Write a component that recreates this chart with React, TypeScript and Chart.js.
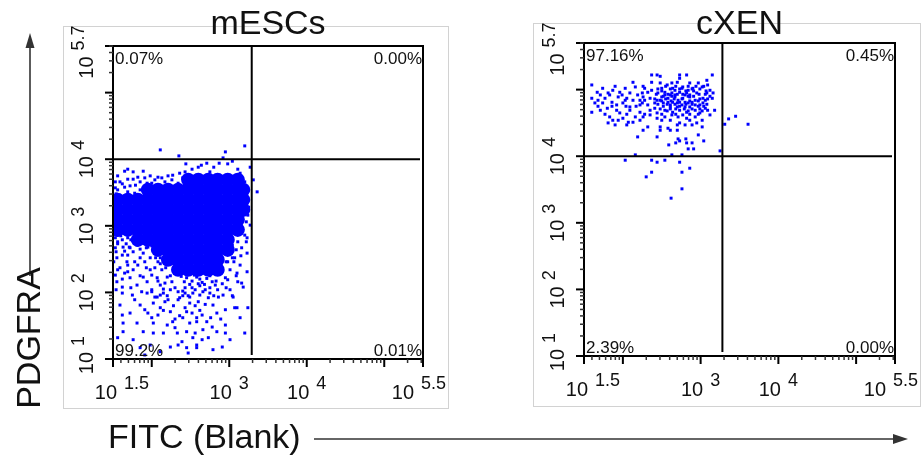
import React, { useEffect, useRef } from 'react';
import { Chart, registerables } from 'chart.js';

Chart.register(...registerables);

const FONT = "'Liberation Sans', Arial, Helvetica, sans-serif";

// ---- axes (values are log10 exponents) ----
const xExpRange: [number, number] = [1.5, 5.5];
const yExpRange: [number, number] = [1, 5.7];
const xLabelExps = [1.5, 3, 4, 5.5];
const xLabelTexts = ['1.5', '3', '4', '5.5'];
const yLabelExps = [1, 2, 3, 4, 5.7];
const yLabelTexts = ['1', '2', '3', '4', '5.7'];

// ---- panel texts / gates ----
const mescTitle = 'mESCs';
const cxenTitle = 'cXEN';
const mescPercents = ['0.07%', '0.00%', '99.2%', '0.01%'];
const cxenPercents = ['97.16%', '0.45%', '2.39%', '0.00%'];
const mescGate = [3.29, 4.0];
const cxenGate = [3.28, 4.0];

// ---- mESCs: dense core (rows of log y, with log x of each saturated cell) ----
const mescCoreRows: [number, number[]][] = [
  [3.69, [2.47, 2.6, 2.73, 2.85, 2.98, 3.11]],
  [3.54, [1.95, 2.08, 2.21, 2.34, 2.47, 2.6, 2.73, 2.85, 2.98, 3.11, 3.18]],
  [3.39, [1.56, 1.69, 1.82, 1.95, 2.08, 2.21, 2.34, 2.47, 2.6, 2.73, 2.85, 2.98, 3.11, 3.18]],
  [3.24, [1.56, 1.69, 1.82, 1.95, 2.08, 2.21, 2.34, 2.47, 2.6, 2.73, 2.85, 2.98, 3.11, 3.18]],
  [3.09, [1.56, 1.69, 1.82, 1.95, 2.08, 2.21, 2.34, 2.47, 2.6, 2.73, 2.85, 2.98, 3.11]],
  [2.94, [1.56, 1.69, 1.82, 1.95, 2.08, 2.21, 2.34, 2.47, 2.6, 2.73, 2.85, 2.98, 3.11]],
  [2.79, [1.82, 1.95, 2.08, 2.21, 2.34, 2.47, 2.6, 2.73, 2.85, 2.98]],
  [2.64, [2.08, 2.21, 2.34, 2.47, 2.6, 2.73, 2.85, 2.98]],
  [2.49, [2.21, 2.34, 2.47, 2.6, 2.73, 2.85]],
  [2.34, [2.34, 2.47, 2.6, 2.73, 2.85]],
];

// ---- mESCs: individual events [log x, log y] ----
const mescDots: [number, number][] = [
  [2.11, 4.14], [2.35, 4.05], [2.95, 4.11], [3.2, 4.2], [2.92, 4.02],
  [2.44, 3.93], [2.64, 3.91], [2.71, 3.94], [2.87, 3.94], [2.98, 3.93], [3.04, 3.97], [3.11, 3.85], [3.27, 3.88],
  [1.65, 3.82], [1.69, 3.85], [1.76, 3.81], [1.82, 3.73], [1.76, 3.7], [1.53, 3.66], [1.59, 3.66], [1.94, 3.64],
  [2.13, 3.72], [2.21, 3.75], [2.27, 3.76], [2.36, 3.79], [2.43, 3.81], [2.52, 3.85], [2.6, 3.88], [2.75, 3.81], [2.8, 3.88],
  [3.14, 3.79], [3.2, 3.66], [3.31, 3.69], [3.36, 3.51], [3.23, 3.54],
  [1.65, 3.58], [1.79, 3.61], [1.56, 3.54], [1.69, 3.51], [1.85, 3.54], [2.04, 3.69], [1.98, 3.75],
  [1.53, 3.57], [1.62, 3.63], [1.72, 3.6], [1.85, 3.66], [1.91, 3.72], [2.0, 3.64], [2.08, 3.73], [2.17, 3.66],
  [2.26, 3.69], [2.34, 3.64], [2.4, 3.72], [1.89, 3.82], [1.56, 3.75], [1.69, 3.7], [1.78, 3.49], [1.65, 3.45],
  [1.54, 3.48], [1.84, 3.45],
  [3.2, 2.86], [3.16, 2.67], [3.23, 2.59], [3.14, 2.41], [3.01, 2.34], [3.1, 2.29], [2.98, 2.19], [3.11, 2.16],
  [3.18, 2.08], [3.01, 2.04], [3.23, 2.31], [3.16, 2.14], [3.24, 1.77], [3.2, 1.39], [3.14, 1.62], [3.1, 1.77],
  [3.05, 1.93], [3.24, 3.16], [3.27, 3.01], [3.22, 2.76], [3.07, 2.52], [3.04, 2.71], [3.09, 2.64],
  [3.22, 3.42], [3.25, 3.28], [3.22, 3.06], [3.23, 2.82], [3.11, 2.76], [3.15, 2.55], [3.06, 2.46], [3.09, 2.25], [2.96, 2.46],
  [1.55, 2.52], [1.62, 2.56], [1.68, 2.46], [1.59, 2.37], [1.65, 2.29], [1.76, 2.34], [1.82, 2.41], [1.72, 2.22],
  [1.55, 2.16], [1.62, 2.08], [1.81, 2.11], [1.89, 2.23], [1.94, 2.16], [1.87, 2.01], [2.0, 2.04], [2.07, 2.22], [2.11, 2.11],
  [1.72, 2.67], [1.81, 2.71], [1.63, 2.68], [1.89, 2.59], [1.98, 2.52], [1.95, 2.68], [1.56, 2.76], [1.53, 2.67],
  [2.04, 2.37], [1.69, 2.82], [1.56, 2.86], [1.62, 2.79], [1.91, 2.46], [2.08, 2.46], [2.13, 2.34], [1.98, 2.34],
  [1.85, 2.52], [1.69, 2.56], [1.51, 2.46], [1.53, 2.26], [1.69, 2.41],
  [1.53, 2.82], [1.6, 2.85], [1.67, 2.73], [1.73, 2.79], [1.56, 2.73], [1.71, 2.68], [1.54, 2.61], [1.65, 2.62],
  [1.76, 2.61], [1.85, 2.65], [1.93, 2.67], [2.0, 2.7], [2.05, 2.52], [2.11, 2.43], [2.18, 2.37], [2.24, 2.25],
  [2.26, 2.16], [2.15, 2.05], [2.08, 2.17], [2.0, 2.26], [1.93, 2.37], [1.85, 2.25], [1.78, 2.46], [1.69, 2.31],
  [1.56, 2.34], [1.62, 2.2], [1.54, 2.04], [1.73, 2.07], [1.94, 1.99], [2.04, 1.93],
  [2.11, 2.52], [2.98, 2.46], [3.04, 2.52], [2.95, 2.22], [2.17, 2.14], [2.24, 2.04], [2.85, 2.04], [2.69, 2.04],
  [2.43, 2.07], [2.56, 2.04], [2.34, 2.01], [2.2, 2.23], [2.82, 2.11], [2.91, 2.31], [2.3, 2.07], [2.62, 1.96],
  [2.49, 1.93], [2.11, 1.96], [2.73, 1.92],
  [2.45, 2.22], [2.52, 2.17], [2.58, 2.23], [2.65, 2.15], [2.71, 2.21], [2.78, 2.16], [2.49, 2.12], [2.62, 2.2],
  [2.68, 2.12], [2.42, 2.16], [2.75, 2.25], [2.55, 2.26], [2.38, 2.24], [2.6, 2.13],
  [2.4, 2.02], [2.52, 2.07], [2.62, 2.1], [2.75, 2.07], [2.83, 2.17], [2.91, 2.13], [2.96, 2.07], [2.47, 1.95],
  [2.66, 2.01], [2.8, 1.95], [2.36, 1.92], [2.21, 1.89],
  [1.62, 1.99], [1.75, 1.96], [2.0, 2.01], [2.15, 1.99], [2.43, 1.99], [2.75, 1.99], [2.92, 1.96], [3.04, 1.95],
  [1.59, 1.81], [1.85, 1.81], [2.02, 1.84], [2.17, 1.86], [2.34, 1.89], [2.49, 1.84], [2.6, 1.86], [2.79, 1.81], [3.07, 1.77],
  [1.62, 1.66], [1.72, 1.69], [1.95, 1.69], [2.08, 1.66], [2.24, 1.71], [2.36, 1.65], [2.52, 1.69], [2.65, 1.66], [2.84, 1.69],
  [1.63, 1.54], [1.81, 1.54], [2.02, 1.54], [2.2, 1.51], [2.27, 1.56], [2.4, 1.62], [2.49, 1.54], [2.58, 1.56],
  [2.71, 1.56], [2.78, 1.48], [2.95, 1.51],
  [1.63, 1.41], [1.89, 1.41], [2.02, 1.39], [2.15, 1.39], [2.33, 1.39], [2.45, 1.41], [2.56, 1.39], [2.66, 1.44],
  [2.84, 1.41], [2.95, 1.39],
  [2.39, 1.26], [2.53, 1.32], [2.65, 1.29], [2.73, 1.32], [2.24, 1.18], [2.34, 1.21], [2.45, 1.17], [2.58, 1.17],
  [2.79, 1.14], [2.47, 1.09], [1.91, 1.06], [2.91, 1.18], [2.58, 1.21],
  [1.56, 1.32], [1.76, 1.29], [1.98, 1.21], [2.11, 1.11], [1.85, 1.17], [1.78, 1.89], [1.91, 1.74], [2.11, 1.77],
  [2.43, 1.77], [2.95, 1.74], [2.3, 1.47], [3.01, 1.29],
  [2.07, 1.93], [2.2, 1.95], [2.4, 1.95], [2.53, 1.99], [2.86, 1.93], [2.28, 1.8], [2.56, 1.8],
  [2.69, 1.82], [2.15, 1.73], [2.45, 1.71], [2.62, 1.73], [2.0, 1.62], [2.3, 1.6], [2.58, 1.62], [2.76, 1.62], [2.89, 1.6],
];

// ---- cXEN: individual events [log x, log y] ----
const cxenCoreRows: [number, number[]][] = [];
const cxenDots: [number, number][] = [
  [2.37, 5.22], [2.44, 5.22], [2.48, 5.2], [2.73, 5.22], [2.73, 5.17], [2.82, 5.22], [3.15, 5.22], [3.08, 5.14],
  [2.13, 5.11], [2.37, 5.11], [2.48, 5.1], [2.57, 5.07], [2.63, 5.1], [2.7, 5.11], [2.86, 5.1], [2.97, 5.1], [3.09, 5.07],
  [1.6, 5.07], [1.74, 5.02], [1.87, 4.99], [2.03, 5.02], [2.16, 5.04], [2.28, 5.02], [2.37, 4.99], [2.5, 5.02],
  [2.64, 5.02], [2.77, 5.04], [2.9, 5.02], [3.02, 5.04], [3.12, 4.99],
  [1.67, 4.96], [1.81, 4.95], [1.96, 4.96], [2.09, 4.95], [2.25, 4.95], [2.32, 4.96], [2.45, 4.95], [2.54, 4.96],
  [2.63, 4.95], [2.73, 4.96], [2.82, 4.95], [2.95, 4.95], [3.08, 4.95], [3.16, 4.95],
  [1.6, 4.87], [1.68, 4.84], [1.77, 4.87], [1.86, 4.81], [1.94, 4.89], [2.05, 4.87], [2.13, 4.84], [2.26, 4.89],
  [2.35, 4.87], [2.44, 4.84], [2.5, 4.89], [2.58, 4.87], [2.67, 4.89], [2.71, 4.84], [2.77, 4.87], [2.86, 4.89],
  [2.93, 4.84], [3.03, 4.87], [3.15, 4.87],
  [1.64, 4.8], [1.74, 4.8], [1.92, 4.77], [2.0, 4.8], [2.09, 4.74], [2.25, 4.8], [2.32, 4.77], [2.41, 4.8],
  [2.52, 4.8], [2.61, 4.77], [2.7, 4.8], [2.76, 4.77], [2.84, 4.8], [2.93, 4.77], [3.03, 4.8], [3.18, 4.69],
  [1.6, 4.66], [1.71, 4.69], [1.8, 4.72], [1.92, 4.69], [1.96, 4.65], [2.09, 4.69], [2.22, 4.66], [2.35, 4.69],
  [2.44, 4.65], [2.54, 4.69], [2.64, 4.66], [2.73, 4.69], [2.82, 4.66], [2.93, 4.69], [3.06, 4.72], [3.09, 4.69],
  [1.83, 4.59], [1.87, 4.54], [2.0, 4.57], [2.07, 4.51], [2.16, 4.59], [2.26, 4.59], [2.35, 4.62], [2.44, 4.57],
  [2.54, 4.59], [2.61, 4.54], [2.71, 4.59], [2.82, 4.57], [2.93, 4.59], [3.02, 4.54], [3.12, 4.62],
  [1.81, 4.5], [1.9, 4.47], [2.05, 4.47], [2.13, 4.51], [2.32, 4.44], [2.48, 4.44], [2.58, 4.42], [2.7, 4.47],
  [2.73, 4.5], [2.95, 4.5], [2.89, 4.47], [3.02, 4.44],
  [2.26, 4.39], [2.48, 4.39], [2.61, 4.39], [2.7, 4.39],
  [3.31, 4.48], [3.36, 4.56], [3.45, 4.6], [3.61, 4.48],
  [2.19, 4.29], [2.44, 4.29], [2.71, 4.26], [2.73, 4.23], [2.81, 4.26], [2.82, 4.2], [2.89, 4.2], [3.04, 4.23],
  [2.59, 4.17], [2.68, 4.2], [2.84, 4.11], [2.91, 4.11], [3.25, 4.08], [2.97, 4.32],
  [2.16, 4.02], [2.76, 4.02], [2.63, 4.02], [2.03, 3.94], [2.37, 3.94], [2.44, 3.91], [2.54, 3.94], [2.73, 3.91],
  [2.86, 3.82], [2.37, 3.76], [2.76, 3.76], [2.3, 3.69], [2.76, 3.51], [2.62, 3.37],
  [2.54, 4.92], [2.61, 4.92], [2.67, 4.92], [2.8, 4.92], [2.86, 4.92], [2.58, 4.81], [2.64, 4.81], [2.73, 4.81],
  [2.8, 4.81], [2.89, 4.81], [2.61, 4.74], [2.7, 4.74], [2.8, 4.74], [2.86, 4.74], [2.67, 4.99], [2.84, 4.99],
  [2.76, 5.02], [2.48, 4.84], [2.41, 4.72], [2.28, 4.84], [2.22, 4.77], [2.99, 4.77], [3.06, 4.84], [2.63, 4.62],
  [2.77, 4.62], [2.5, 4.54], [2.86, 4.54], [2.8, 4.47], [2.99, 4.65],
  [2.55, 5.05], [2.68, 5.05], [2.84, 5.05], [2.94, 5.05], [3.04, 5.05],
  [2.45, 5.01], [2.61, 5.01], [2.73, 5.01], [2.89, 5.01], [2.99, 5.01],
  [2.5, 4.98], [2.81, 4.98], [2.91, 4.98], [3.07, 4.98],
  [2.43, 4.93], [2.58, 4.93], [2.7, 4.93], [2.77, 4.93], [2.98, 4.93], [3.06, 4.93],
  [2.52, 4.9], [2.63, 4.9], [2.84, 4.9], [2.91, 4.9], [3.12, 4.9],
  [2.41, 4.86], [2.55, 4.86], [2.66, 4.86], [2.76, 4.86], [2.99, 4.86], [3.09, 4.86],
  [2.5, 4.83], [2.62, 4.83], [2.86, 4.83], [2.97, 4.83],
  [2.45, 4.78], [2.57, 4.78], [2.67, 4.78], [2.81, 4.78], [2.89, 4.78], [3.08, 4.78],
  [2.52, 4.75], [2.73, 4.75], [2.97, 4.75], [3.04, 4.75],
  [2.48, 4.71], [2.61, 4.71], [2.68, 4.71], [2.79, 4.71], [2.89, 4.71], [2.99, 4.71],
  [2.57, 4.68], [2.84, 4.68], [3.02, 4.68],
  [2.5, 4.63], [2.68, 4.63], [2.86, 4.63], [2.97, 4.63],
  [1.71, 4.92], [1.83, 4.92], [1.99, 4.92], [2.19, 4.92], [2.03, 4.84], [2.22, 4.84], [1.68, 4.75], [1.86, 4.75],
  [2.04, 4.75], [2.17, 4.75], [1.77, 4.63], [2.05, 4.63], [2.28, 4.63], [1.94, 4.54], [2.22, 4.54], [1.9, 5.05], [2.26, 5.05],
];

type Panel = {
  title: string;
  percents: string[];
  gate: number[];
  coreRows: [number, number[]][];
  dots: [number, number][];
  padding: { left: number; right: number; top: number; bottom: number };
  frame: [number, number, number, number];
};

function minorExps(lo: number, hi: number): number[] {
  const out: number[] = [];
  for (let k = Math.floor(lo); k <= Math.ceil(hi); k++) {
    for (let m = 2; m <= 9; m++) {
      const v = k + Math.log10(m);
      if (v > lo + 1e-6 && v < hi - 1e-6) out.push(v);
    }
  }
  return out;
}

function majorExps(lo: number, hi: number, labelled: number[]): number[] {
  const out = [...labelled];
  for (let k = Math.ceil(lo); k <= Math.floor(hi); k++) if (!out.includes(k)) out.push(k);
  return out;
}

function makePlugin(p: Panel) {
  return {
    id: 'flowPanel',
    beforeDraw(chart: any) {
      const ctx = chart.ctx as CanvasRenderingContext2D;
      ctx.save();
      ctx.fillStyle = '#ffffff';
      ctx.fillRect(0, 0, chart.width, chart.height);
      ctx.strokeStyle = '#d2d2d2';
      ctx.lineWidth = 1;
      const [fx, fy, fw, fh] = p.frame;
      ctx.strokeRect(fx, fy, fw, fh);
      ctx.restore();
    },
    afterDatasetsDraw(chart: any) {
      const ctx = chart.ctx as CanvasRenderingContext2D;
      const a = chart.chartArea;
      const xs = chart.scales.x;
      const ys = chart.scales.y;
      const px = (e: number) => xs.getPixelForValue(Math.pow(10, e));
      const py = (e: number) => ys.getPixelForValue(Math.pow(10, e));
      const line = (x1: number, y1: number, x2: number, y2: number) => {
        ctx.beginPath();
        ctx.moveTo(x1, y1);
        ctx.lineTo(x2, y2);
        ctx.stroke();
      };
      ctx.save();
      ctx.strokeStyle = '#000';
      ctx.lineWidth = 2;
      const gx = px(p.gate[0]);
      const gy = py(p.gate[1]);
      line(gx, a.top, gx, a.bottom - 4);
      line(a.left, gy, a.right - 3, gy);
      ctx.strokeRect(a.left, a.top, a.right - a.left, a.bottom - a.top);
      for (const e of majorExps(xExpRange[0], xExpRange[1], xLabelExps)) {
        const X = px(e);
        line(X, a.bottom, X, a.bottom + 8);
      }
      for (const e of majorExps(yExpRange[0], yExpRange[1], yLabelExps)) {
        const Y = py(e);
        line(a.left - 8, Y, a.left, Y);
      }
      ctx.lineWidth = 1.5;
      ctx.strokeStyle = '#333';
      for (const e of minorExps(xExpRange[0], xExpRange[1])) {
        const X = px(e);
        line(X, a.bottom, X, a.bottom + 4);
      }
      for (const e of minorExps(yExpRange[0], yExpRange[1])) {
        const Y = py(e);
        line(a.left - 4, Y, a.left, Y);
      }
      ctx.fillStyle = '#111';
      ctx.textAlign = 'left';
      ctx.textBaseline = 'alphabetic';
      xLabelExps.forEach((e, i) => {
        const shift = i === 0 ? 9 : i === xLabelExps.length - 1 ? -4 : 0;
        ctx.font = `20px ${FONT}`;
        const wb = ctx.measureText('10').width;
        ctx.font = `18px ${FONT}`;
        const ws = ctx.measureText(xLabelTexts[i]).width;
        const gap = 7;
        const start = px(e) - (wb + gap + ws) / 2 + shift;
        ctx.font = `20px ${FONT}`;
        ctx.fillText('10', start, a.bottom + 40);
        ctx.font = `18px ${FONT}`;
        ctx.fillText(xLabelTexts[i], start + wb + gap, a.bottom + 30);
      });
      yLabelExps.forEach((e, i) => {
        const shift = i === 0 ? 4 : i === yLabelExps.length - 1 ? -6 : 0;
        ctx.save();
        ctx.translate(a.left - 20, py(e));
        ctx.rotate(-Math.PI / 2);
        ctx.font = `20px ${FONT}`;
        const wb = ctx.measureText('10').width;
        ctx.font = `18px ${FONT}`;
        const ws = ctx.measureText(yLabelTexts[i]).width;
        const gap = 6;
        const start = -(wb + gap + ws) / 2 + shift;
        ctx.font = `20px ${FONT}`;
        ctx.fillText('10', start, 0);
        ctx.font = `18px ${FONT}`;
        ctx.fillText(yLabelTexts[i], start + wb + gap, -9);
        ctx.restore();
      });
      ctx.font = `17px ${FONT}`;
      ctx.fillStyle = '#111';
      ctx.textAlign = 'left';
      ctx.fillText(p.percents[0], a.left + 2, a.top + 18);
      ctx.fillText(p.percents[2], a.left + 2, a.bottom - 3);
      ctx.textAlign = 'right';
      ctx.fillText(p.percents[1], a.right - 1, a.top + 18);
      ctx.fillText(p.percents[3], a.right - 1, a.bottom - 3);
      ctx.restore();
    },
    afterDraw(chart: any) {
      const ctx = chart.ctx as CanvasRenderingContext2D;
      const a = chart.chartArea;
      ctx.save();
      ctx.font = `34px ${FONT}`;
      ctx.fillStyle = '#111';
      ctx.textAlign = 'center';
      ctx.textBaseline = 'alphabetic';
      ctx.fillText(p.title, (a.left + a.right) / 2, 34);
      ctx.restore();
    },
  };
}

function createPanel(canvas: HTMLCanvasElement, p: Panel) {
  const core = p.coreRows.flatMap(([ly, lxs]) => lxs.map((lx) => ({ x: Math.pow(10, lx), y: Math.pow(10, ly) })));
  const dots = p.dots.map(([lx, ly]) => ({ x: Math.pow(10, lx), y: Math.pow(10, ly) }));
  return new Chart(canvas, {
    type: 'scatter',
    data: {
      datasets: [
        {
          data: core,
          pointStyle: 'circle',
          pointRadius: 7.1,
          backgroundColor: '#0000ff',
          pointBackgroundColor: '#0000ff',
          borderWidth: 0,
          pointBorderWidth: 0,
        },
        {
          data: dots,
          pointStyle: 'rect',
          pointRadius: 2.1,
          backgroundColor: '#0000ff',
          pointBackgroundColor: '#0000ff',
          borderWidth: 0,
          pointBorderWidth: 0,
        },
      ],
    },
    options: {
      animation: false,
      responsive: false,
      maintainAspectRatio: false,
      devicePixelRatio: 1,
      events: [],
      layout: { padding: p.padding },
      plugins: { legend: { display: false }, tooltip: { enabled: false }, title: { display: false } },
      scales: {
        x: { type: 'logarithmic', min: Math.pow(10, xExpRange[0]), max: Math.pow(10, xExpRange[1]), display: false },
        y: { type: 'logarithmic', min: Math.pow(10, yExpRange[0]), max: Math.pow(10, yExpRange[1]), display: false },
      },
    } as any,
    plugins: [makePlugin(p)],
  });
}

const panels: Panel[] = [
  {
    title: mescTitle,
    percents: mescPercents,
    gate: mescGate,
    coreRows: mescCoreRows,
    dots: mescDots,
    padding: { left: 113, right: 38, top: 46, bottom: 98 },
    frame: [63.5, 26.5, 385, 382],
  },
  {
    title: cxenTitle,
    percents: cxenPercents,
    gate: cxenGate,
    coreRows: cxenCoreRows,
    dots: cxenDots,
    padding: { left: 123, right: 27, top: 43, bottom: 101 },
    frame: [72.5, 23.5, 387, 383],
  },
];

export default function App() {
  const c1 = useRef<HTMLCanvasElement | null>(null);
  const c2 = useRef<HTMLCanvasElement | null>(null);
  useEffect(() => {
    const charts: Chart[] = [];
    if (c1.current) charts.push(createPanel(c1.current, panels[0]));
    if (c2.current) charts.push(createPanel(c2.current, panels[1]));
    return () => charts.forEach((c) => c.destroy());
  }, []);
  return (
    <div style={{ position: 'absolute', left: 0, top: 0, width: 922, height: 457, background: '#fff', overflow: 'hidden' }}>
      <canvas ref={c1} width={461} height={457} style={{ position: 'absolute', left: 0, top: 0 }} />
      <canvas ref={c2} width={461} height={457} style={{ position: 'absolute', left: 461, top: 0 }} />
      <svg width={922} height={457} style={{ position: 'absolute', left: 0, top: 0 }}>
        <line x1={30} y1={276} x2={30} y2={46} stroke="#333" strokeWidth={1.6} />
        <polygon points="30,33 25.5,48 34.5,48" fill="#333" />
        <text x={40} y={338} transform="rotate(-90 40 338)" textAnchor="middle" fontSize={34} fontFamily={FONT} fill="#111">
          PDGFRA
        </text>
        <text x={108} y={448} fontSize={34} fontFamily={FONT} fill="#111">
          FITC (Blank)
        </text>
        <line x1={314} y1={439} x2={896} y2={439} stroke="#333" strokeWidth={1.6} />
        <polygon points="908,439 893,434 893,444" fill="#333" />
      </svg>
    </div>
  );
}
